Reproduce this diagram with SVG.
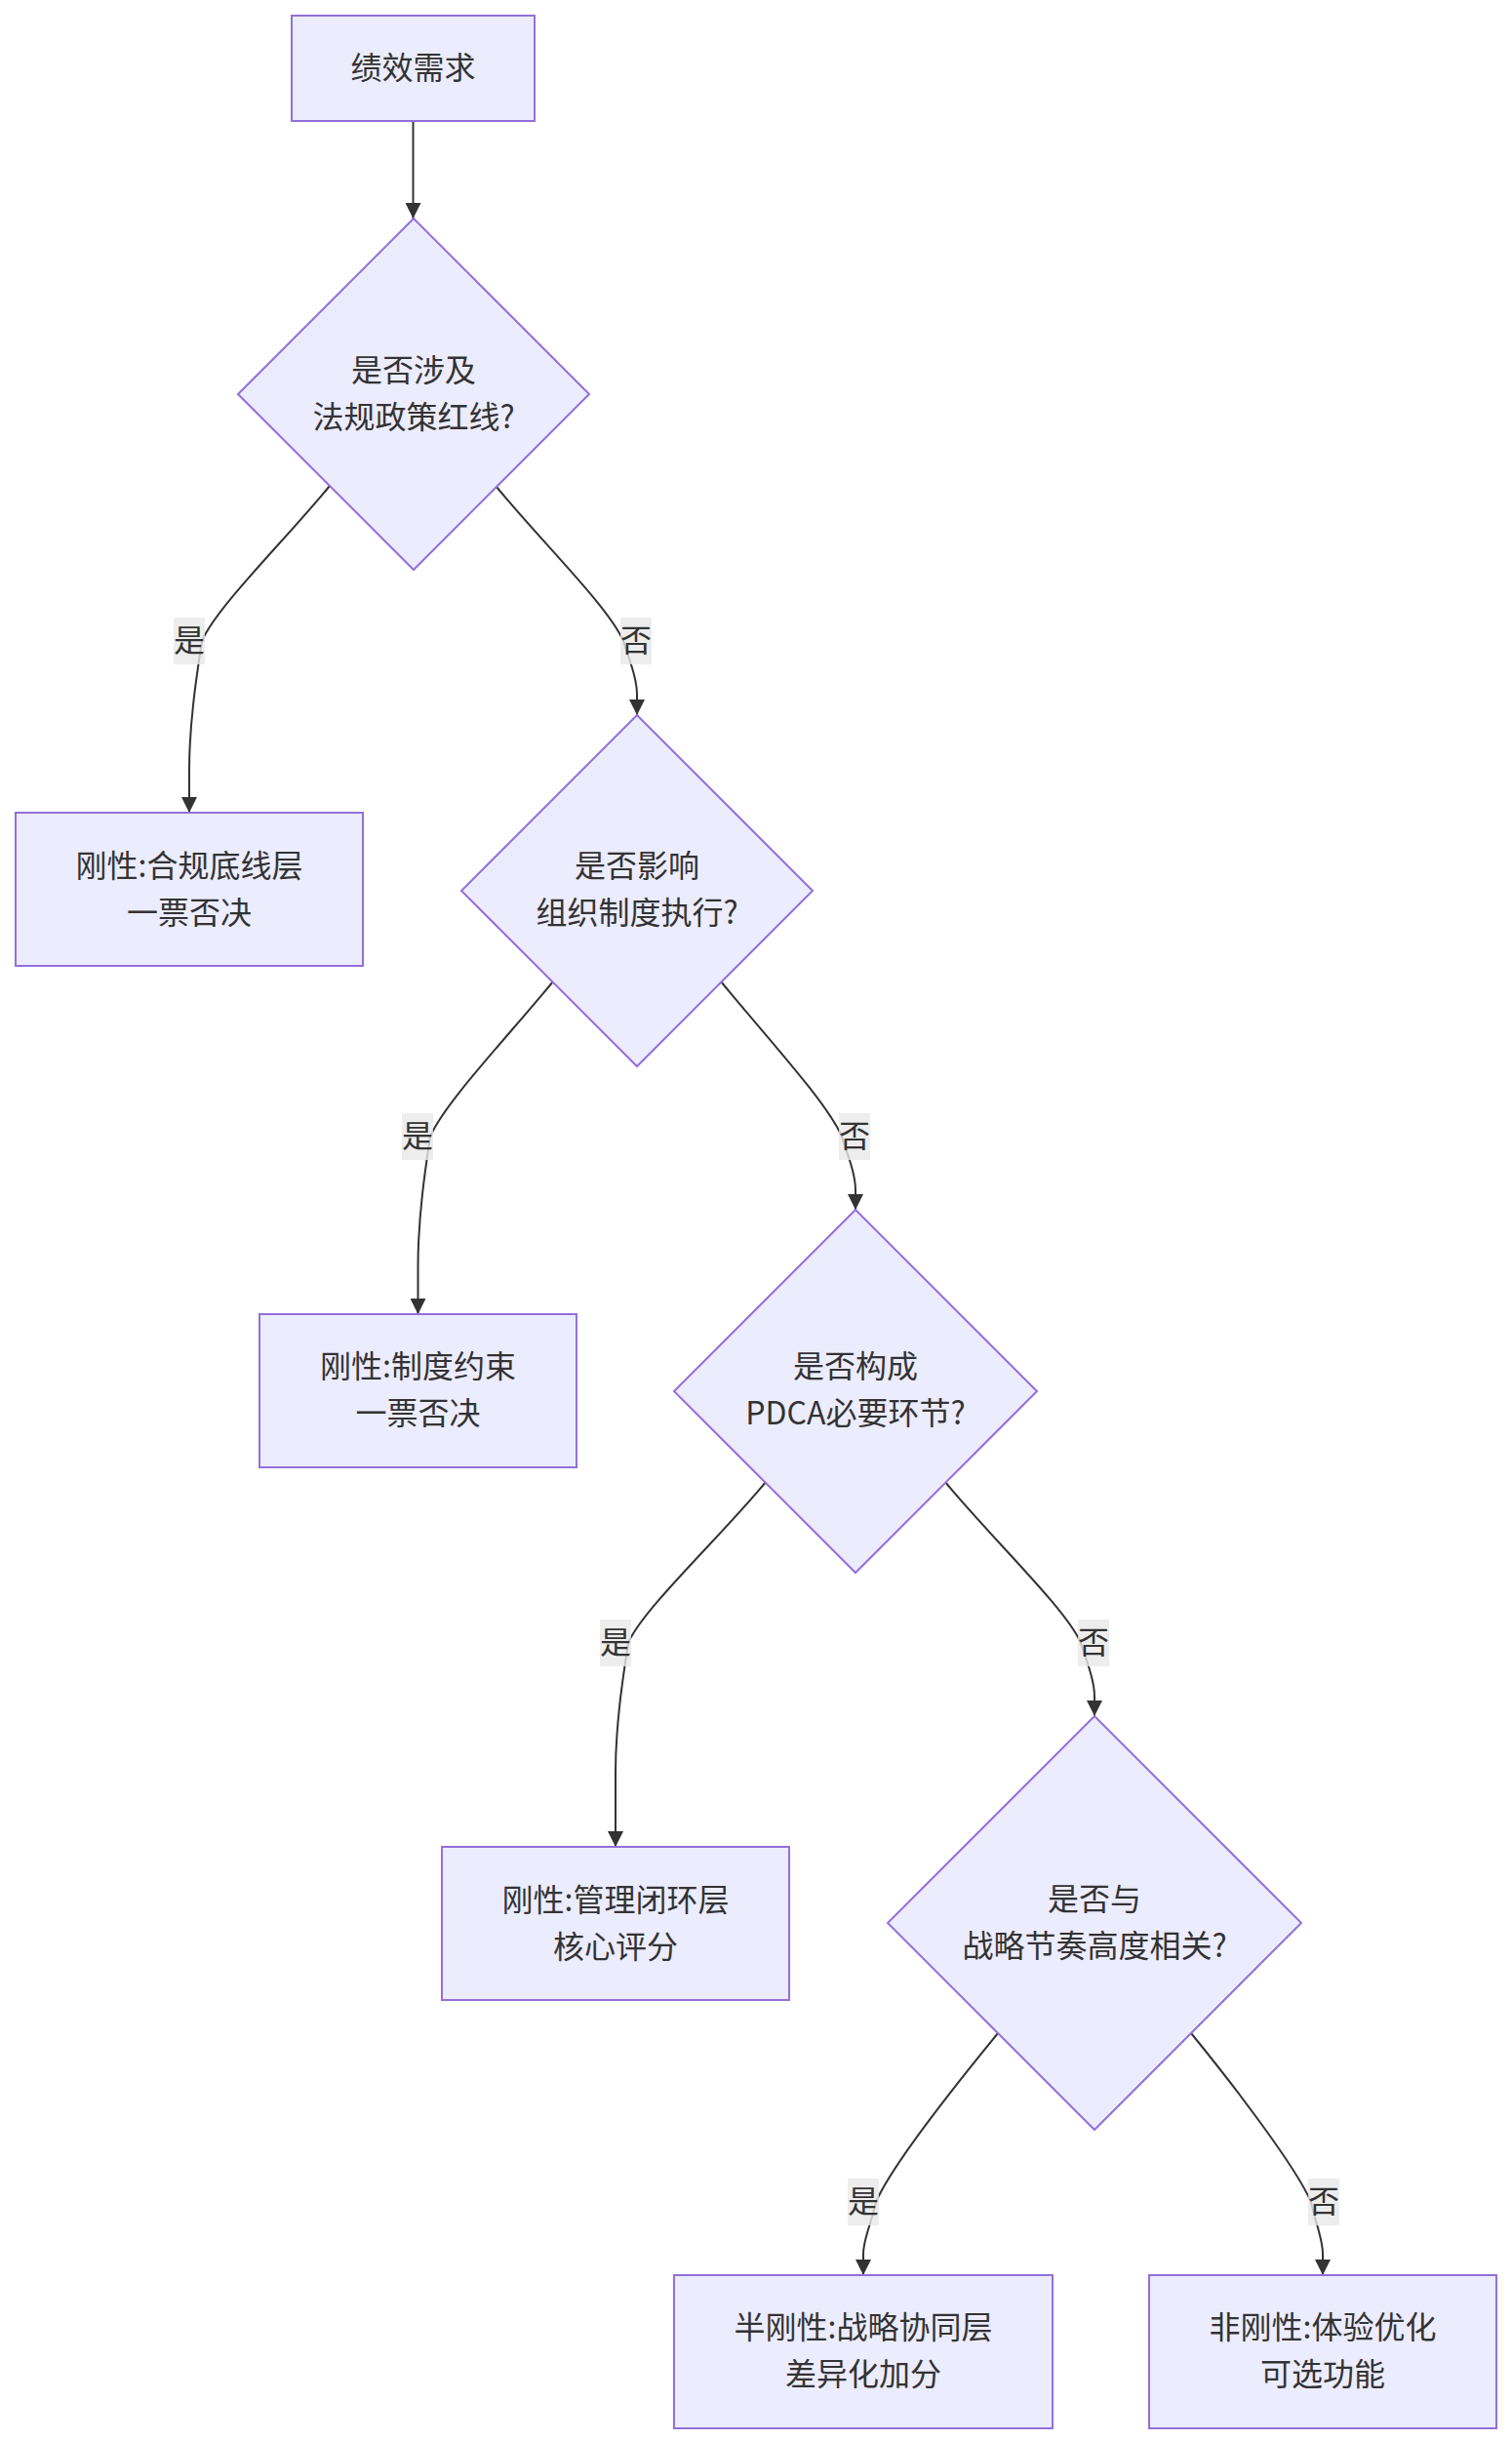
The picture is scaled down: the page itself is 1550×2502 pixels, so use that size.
<svg xmlns="http://www.w3.org/2000/svg" width="1550" height="2502" viewBox="0 0 1550 2502">
<style>
.node rect,.node polygon{fill:#ECECFF;stroke:#9370DB;stroke-width:2}
text{font-family:"Noto Sans CJK SC","Noto Sans",sans-serif;font-size:32px;fill:#333333;text-anchor:middle}
.edge{fill:none;stroke:#333333;stroke-width:2;marker-end:url(#arrow)}
.lbl rect{fill:#e8e8e8;fill-opacity:0.8}
</style>
<defs>
<marker id="arrow" markerUnits="userSpaceOnUse" viewBox="0 0 16 16" refX="16" refY="8" markerWidth="16" markerHeight="16" orient="auto">
<path d="M0,0 L16,8 L0,16 z" fill="#333333"/>
</marker>
</defs>
<g id="connectors">
<path class="edge" d="M423.5,124 L423.5,224"/>
<path class="edge" d="M338,498 C293,553 222,622 207,657 C202,690 194,740 194,790 L194,833"/>
<path class="edge" d="M509,499 C554,554 624,622 639,657 C645,676 653,695 653,712 L653,733"/>
<path class="edge" d="M567,1006 C522,1061 456,1130 441,1165 C436,1198 428.5,1248 428.5,1298 L428.5,1347"/>
<path class="edge" d="M739,1006 C784,1061 848,1130 863,1165 C869,1184 877,1203 877,1220 L877,1240"/>
<path class="edge" d="M785,1519 C740,1574 659,1649 644,1684 C639,1717 631,1767 631,1817 L631,1893"/>
<path class="edge" d="M969,1519 C1014,1574 1093,1649 1108,1684 C1114,1703 1122,1722 1122,1739 L1122,1759"/>
<path class="edge" d="M1023,2084 C978,2139 913,2222 898,2257 C893,2280 885,2295 885,2310 L885,2332"/>
<path class="edge" d="M1221,2084 C1266,2139 1329,2222 1344,2257 C1349,2280 1356,2295 1356,2310 L1356,2332"/>
<g class="lbl"><rect x="178" y="633" width="32" height="48"/><text x="194" y="668">是</text></g>
<g class="lbl"><rect x="636" y="633" width="32" height="48"/><text x="652" y="668">否</text></g>
<g class="lbl"><rect x="412" y="1141" width="32" height="48"/><text x="428" y="1176">是</text></g>
<g class="lbl"><rect x="860" y="1141" width="32" height="48"/><text x="876" y="1176">否</text></g>
<g class="lbl"><rect x="615" y="1660" width="32" height="48"/><text x="631" y="1695">是</text></g>
<g class="lbl"><rect x="1105" y="1660" width="32" height="48"/><text x="1121" y="1695">否</text></g>
<g class="lbl"><rect x="869" y="2233" width="32" height="48"/><text x="885" y="2268">是</text></g>
<g class="lbl"><rect x="1341" y="2233" width="32" height="48"/><text x="1357" y="2268">否</text></g>
</g>
<g id="n0" class="node"><rect x="299" y="16" width="249" height="108"/><text x="423.5" y="81">绩效需求</text></g>
<g id="d1" class="node"><polygon points="424,224 604,404 424,584 244,404"/><text x="424" y="391">是否涉及</text><text x="424" y="439">法规政策红线?</text></g>
<g id="n1" class="node"><rect x="16" y="833" width="356" height="157"/><text x="194" y="898.5">刚性:合规底线层</text><text x="194" y="946.5">一票否决</text></g>
<g id="d2" class="node"><polygon points="653,733 833,913 653,1093 473,913"/><text x="653" y="899">是否影响</text><text x="653" y="947">组织制度执行?</text></g>
<g id="n2" class="node"><rect x="266" y="1347" width="325" height="157"/><text x="428.5" y="1412">刚性:制度约束</text><text x="428.5" y="1460">一票否决</text></g>
<g id="d3" class="node"><polygon points="877,1240 1063,1426 877,1612 691,1426"/><text x="877" y="1412">是否构成</text><text x="877" y="1460">PDCA必要环节?</text></g>
<g id="n3" class="node"><rect x="453" y="1893" width="356" height="157"/><text x="631" y="1958.5">刚性:管理闭环层</text><text x="631" y="2006.5">核心评分</text></g>
<g id="d4" class="node"><polygon points="1122,1759 1334,1971 1122,2183 910,1971"/><text x="1122" y="1958">是否与</text><text x="1122" y="2006">战略节奏高度相关?</text></g>
<g id="n4" class="node"><rect x="691" y="2332" width="388" height="157"/><text x="885" y="2396.5">半刚性:战略协同层</text><text x="885" y="2444.5">差异化加分</text></g>
<g id="n5" class="node"><rect x="1178" y="2332" width="356" height="157"/><text x="1356" y="2396.5">非刚性:体验优化</text><text x="1356" y="2444.5">可选功能</text></g>
</svg>
